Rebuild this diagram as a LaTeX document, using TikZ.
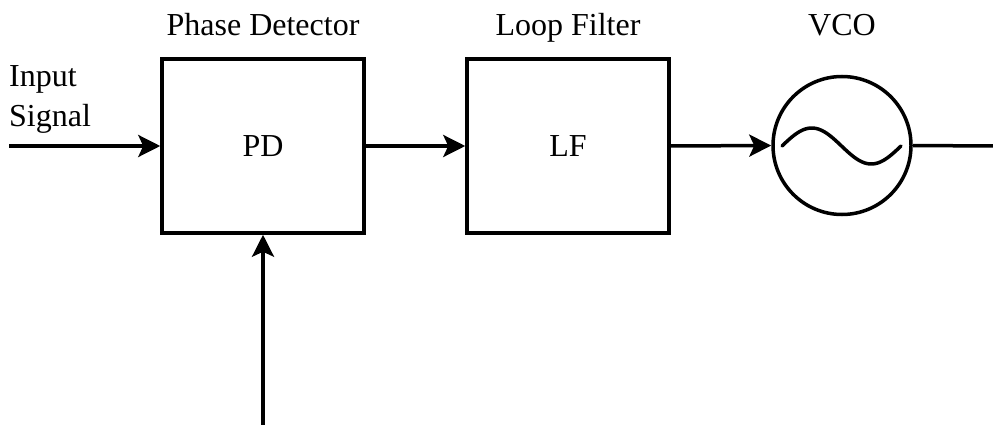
\documentclass[tikz,border=0pt]{standalone}
\usepackage{fontspec}
\setmainfont{Liberation Serif}
\usetikzlibrary{arrows.meta}
\begin{document}
\begin{tikzpicture}[x=1pt,y=-1pt,
  wire/.style={line width=3.5pt},
  sig/.style={wire,-{Stealth[length=22pt,width=22pt,inset=5pt]}},
  block/.style={draw,line width=3.5pt,minimum width=202pt,minimum height=174pt,inner sep=0pt,font=\fontsize{32}{38}\selectfont},
  title/.style={font=\fontsize{32}{38}\selectfont,anchor=base},
  every node/.style={inner sep=0pt}]
\useasboundingbox (0,0) rectangle (993,425);

% blocks
\node[block] (pd) at (263,146) {PD};
\node[block] (lf) at (568,146) {LF};
\node[draw,circle,line width=3.5pt,minimum size=138pt] (vco) at (842,145.5) {};

% sine inside the oscillator
\draw[line width=3.5pt,line cap=round] plot[domain=0:360,samples=60,smooth]
  ({782+\x/360*119},{146-18*sin(\x)});

% titles
\node[title] (tpd) at (263,36) {Phase Detector};
\node[title] (tlf) at (568,36) {Loop Filter};
\node[title] (tvco) at (842,36) {VCO};
\node[title,anchor=base west] (in1) at (9,87) {Input};
\node[title,anchor=base west] (in2) at (9,127) {Signal};

% connections
\coordinate (src) at (9,146);
\coordinate (ref) at (263,425);
\coordinate (out) at (993,146);
\draw[sig] (src) -- (pd.west |- src);
\draw[sig] (ref) -- (pd.south);
\draw[sig] (pd.east) -- (lf.west);
\draw[sig] (lf.east) -- (vco.west);
\draw[wire] (vco.east) -- (out);
\end{tikzpicture}
\end{document}
